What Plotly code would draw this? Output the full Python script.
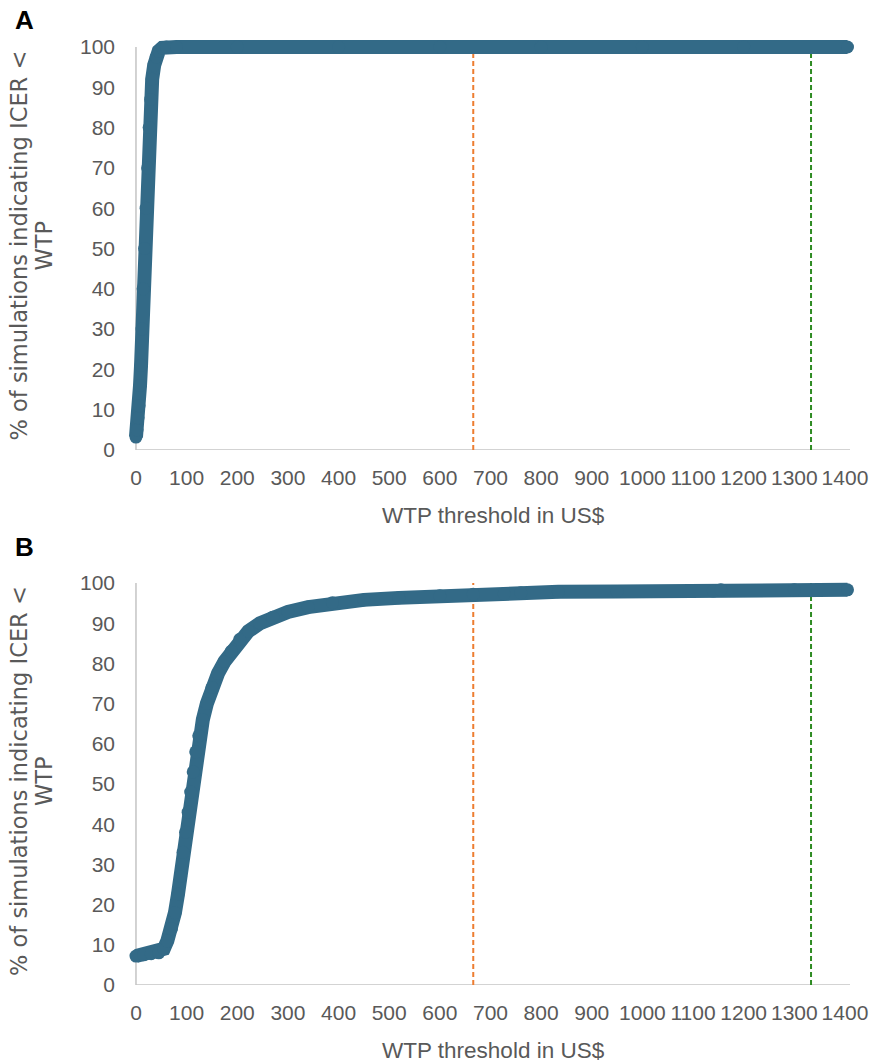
import plotly.graph_objects as go

# ---------------- data ----------------
# Panel A: WTP threshold (US$) vs % of simulations with ICER < WTP
wtp_a = [0, 2, 4, 6, 8, 10, 12, 14, 17, 20, 23, 26, 29, 32, 36, 40, 45, 52, 60, 80, 200, 400, 600, 800, 1000, 1200, 1405]
pct_a = [3.2, 5, 8, 11, 16, 21, 30, 40, 50, 60, 70, 80, 87, 92, 95.5, 97.5, 99, 99.8, 100, 100, 100, 100, 100, 100, 100, 100, 100]

# Panel B
wtp_b = [0, 15, 30, 45, 55, 62, 70, 77, 83, 88, 93, 98, 103, 108, 113, 118, 124, 132, 140, 150, 162, 175, 188, 205, 222, 245, 270, 300, 340, 388, 450, 519, 600, 666, 727, 760, 834, 950, 1140, 1155, 1300, 1405]
pct_b = [7.2, 7.5, 7.8, 8.0, 9.0, 11, 14, 18, 22.6, 27, 33, 38, 43, 48, 53, 58, 62, 66, 70, 74, 77.5, 80.5, 83, 86, 88, 90, 91.5, 92.8, 94, 95.1, 95.8, 96.3, 96.8, 97.2, 97.3, 97.6, 97.8, 97.9, 98.0, 98.3, 98.3, 98.3]

# WTP reference thresholds
thr_orange = [666, 666]
thr_green = [1333, 1333]
thr_y = [0, 100]

x_ticks = list(range(0, 1401, 100))
y_ticks = list(range(0, 101, 10))
X_MAX = 1410
Y_MAX = 100

# ---------------- styles ----------------
MAIN = "#336A87"
ORANGE = "#ED7D31"
GREEN = "#2E8B22"
GRAY_TXT = "#595959"
AXIS = "#C4C4C4"
FONT = "Liberation Sans, Arial, sans-serif"
FONT_WIDE = "DejaVu Sans, Verdana, sans-serif"

# pixel geometry of axis frame (x=0..X_MAX, y=0..100)
PX_L, PX_R = 136, 852
A_TOP, A_BOT = 47, 450
B_TOP, B_BOT = 583, 985
PAD_X = 10   # px of extra room left/right so markers are not clipped
PAD_TOP = 12  # px of extra room on top

sx = (PX_R - PX_L) / X_MAX
x_range = [-PAD_X / sx, X_MAX + PAD_X / sx]
plot_l, plot_r = PX_L - PAD_X, PX_R + PAD_X

def y_range(top, bot):
    sy = (bot - top) / Y_MAX
    return [0, Y_MAX + PAD_TOP / sy]

fig = go.Figure()

def add_panel(xs, ys, xref, yref):
    fig.add_trace(go.Scatter(x=thr_orange, y=thr_y, mode="lines",
                             line=dict(color=ORANGE, width=2, dash="5px,3px"),
                             xaxis=xref, yaxis=yref, showlegend=False, hoverinfo="skip"))
    fig.add_trace(go.Scatter(x=thr_green, y=thr_y, mode="lines",
                             line=dict(color=GREEN, width=2, dash="5px,3px"),
                             xaxis=xref, yaxis=yref, showlegend=False, hoverinfo="skip"))
    fig.add_trace(go.Scatter(x=xs, y=ys, mode="lines+markers",
                             line=dict(color=MAIN, width=14),
                             marker=dict(color=MAIN, size=13, line=dict(width=0)),
                             cliponaxis=False,
                             xaxis=xref, yaxis=yref, showlegend=False))
    # axis lines at x=0 and y=0
    fig.add_shape(type="line", xref=xref, yref=yref, x0=0, x1=0, y0=0, y1=Y_MAX,
                  line=dict(color=AXIS, width=1.5), layer="below")
    fig.add_shape(type="line", xref=xref, yref=yref, x0=0, x1=X_MAX, y0=0, y1=0,
                  line=dict(color=AXIS, width=1.5), layer="below")

add_panel(wtp_a, pct_a, "x", "y")
add_panel(wtp_b, pct_b, "x2", "y2")

top_a = A_TOP - PAD_TOP
top_b = B_TOP - PAD_TOP
span = B_BOT - top_a
dom_a = [(B_BOT - A_BOT) / span, 1.0]
dom_b = [0.0, (B_BOT - top_b) / span]

xaxis_common = dict(range=x_range, tickmode="array", tickvals=x_ticks, tickangle=0,
                    showgrid=False, zeroline=False, showline=False, ticks="",
                    ticklabelstandoff=13,
                    tickfont=dict(family=FONT, size=21, color=GRAY_TXT))
yaxis_common = dict(tickmode="array", tickvals=y_ticks,
                    showgrid=False, zeroline=False, showline=False, ticks="",
                    ticklabelstandoff=10,
                    tickfont=dict(family=FONT, size=21, color=GRAY_TXT))

fig.update_layout(
    width=880, height=1064,
    margin=dict(l=plot_l, r=880 - plot_r, t=top_a, b=1064 - B_BOT),
    paper_bgcolor="white", plot_bgcolor="white",
    xaxis=dict(domain=[0, 1], anchor="y", **xaxis_common),
    yaxis=dict(domain=dom_a, anchor="x", range=y_range(A_TOP, A_BOT), **yaxis_common),
    xaxis2=dict(domain=[0, 1], anchor="y2", **xaxis_common),
    yaxis2=dict(domain=dom_b, anchor="x2", range=y_range(B_TOP, B_BOT), **yaxis_common),
)

ytitle1 = "% of simulations indicating ICER <"
ytitle2 = "WTP"
xtitle = "WTP threshold in US$"
for xr, yr, letter in [("x", "y", "A"), ("x2", "y2", "B")]:
    for txt, px in [(ytitle1, 19), (ytitle2, 44)]:
        fig.add_annotation(text=txt, xref=xr, yref=yr, x=0, y=Y_MAX / 2,
                           xanchor="center", yanchor="middle", xshift=-(PX_L - px),
                           yshift=3, textangle=-90, showarrow=False,
                           font=dict(family=FONT_WIDE, size=22.5, color=GRAY_TXT))
    fig.add_annotation(text=xtitle, xref=xr, yref=yr, x=X_MAX / 2, y=0,
                       xanchor="center", yanchor="middle", yshift=-65,
                       showarrow=False,
                       font=dict(family=FONT, size=22.5, color=GRAY_TXT))
    fig.add_annotation(text=f"<b>{letter}</b>", xref=xr, yref=yr, x=0, y=Y_MAX,
                       xanchor="center", yanchor="middle", xshift=-(PX_L - 25),
                       yshift=27 if letter == "A" else 36,
                       showarrow=False,
                       font=dict(family=FONT, size=26, color="black"))

fig.write_html("out.html")
